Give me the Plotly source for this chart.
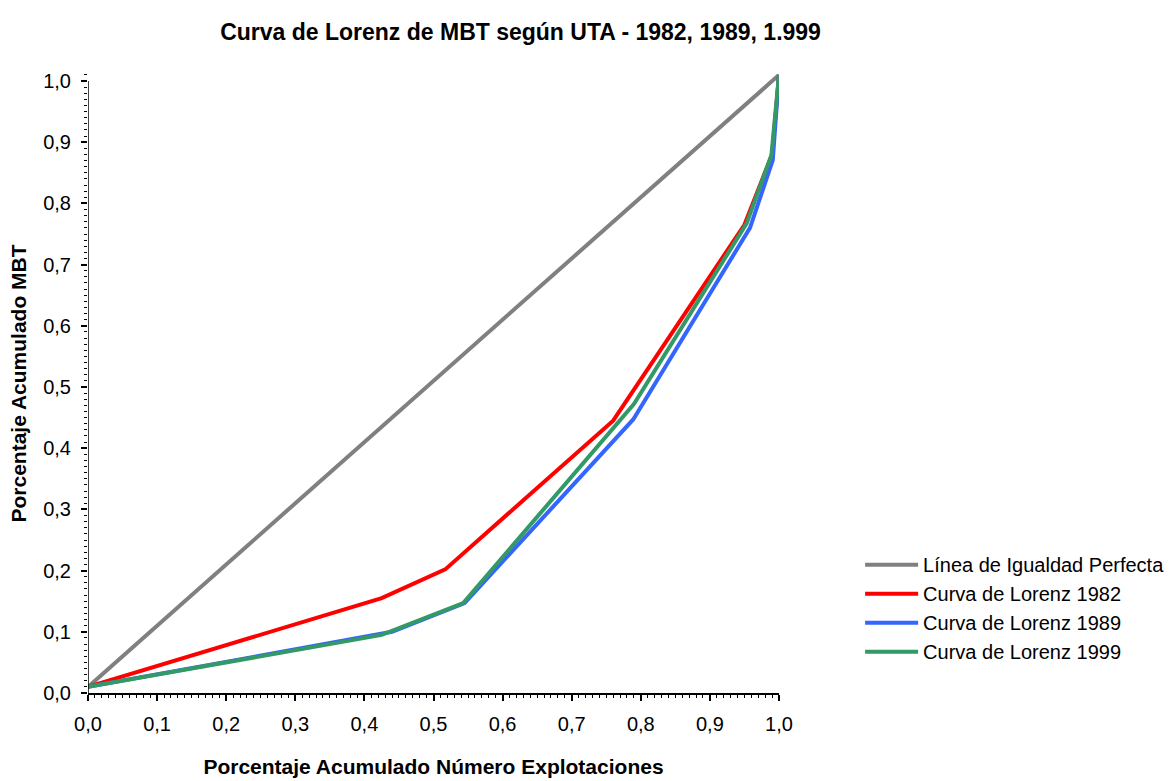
import plotly.graph_objects as go

# Data
series_names = ["Línea de Igualdad Perfecta", "Curva de Lorenz 1982",
                "Curva de Lorenz 1989", "Curva de Lorenz 1999"]

igualdad_x = [0.0, 1.0]
igualdad_y = [0.01, 1.01]

lorenz1982_x = [0.0, 0.425, 0.517, 0.76, 0.95, 0.99, 1.0]
lorenz1982_y = [0.01, 0.155, 0.202, 0.445, 0.765, 0.88, 1.01]

lorenz1989_x = [0.0, 0.44, 0.545, 0.789, 0.958, 0.991, 1.0]
lorenz1989_y = [0.01, 0.10, 0.147, 0.447, 0.76, 0.871, 1.01]

lorenz1999_x = [0.0, 0.425, 0.543, 0.79, 0.953, 0.989, 1.0]
lorenz1999_y = [0.01, 0.095, 0.147, 0.472, 0.767, 0.879, 1.01]

tick_vals = [i / 10 for i in range(11)]
tick_text = ["0,0", "0,1", "0,2", "0,3", "0,4", "0,5", "0,6", "0,7", "0,8", "0,9", "1,0"]

colors = ["#808080", "#FF0000", "#3366FF", "#339966"]
FONT = "Liberation Sans, Arial, sans-serif"

fig = go.Figure()
for i, (name, xs, ys) in enumerate(zip(
        series_names,
        [igualdad_x, lorenz1982_x, lorenz1989_x, lorenz1999_x],
        [igualdad_y, lorenz1982_y, lorenz1989_y, lorenz1999_y])):
    fig.add_trace(go.Scatter(x=xs, y=ys, mode="lines", name=name,
                             legendgroup=f"g{i}",
                             line=dict(color=colors[i], width=4)))

fig.update_layout(
    width=1175, height=781,
    paper_bgcolor="white", plot_bgcolor="white",
    margin=dict(l=88, r=396, t=74, b=88),
    font=dict(family=FONT, size=20, color="black"),
    title=dict(text="<b>Curva de Lorenz de MBT según UTA - 1982, 1989, 1.999</b>",
               x=0.443, xanchor="center", y=0.959, yanchor="middle",
               font=dict(family=FONT, size=23, color="black")),
    showlegend=True,
    legend=dict(xref="container", yref="container",
                x=0.732, xanchor="left", y=0.302, yanchor="top",
                font=dict(family=FONT, size=20, color="black"),
                itemwidth=53, tracegroupgap=0, traceorder="grouped",
                bgcolor="rgba(0,0,0,0)"),
)

fig.update_xaxes(range=[0, 1], tickvals=tick_vals, ticktext=tick_text,
                 automargin=False,
                 showgrid=False, zeroline=False, showline=True,
                 linecolor="black", linewidth=1.5,
                 ticks="outside", ticklen=6, tickcolor="black", tickwidth=1.5,
                 minor=dict(dtick=0.01, ticks="outside", ticklen=3,
                            tickcolor="black", tickwidth=1, showgrid=False),
                 ticklabelstandoff=6,
                 title=dict(text="<b>Porcentaje Acumulado Número Explotaciones</b>",
                            font=dict(family=FONT, size=21), standoff=26))

fig.update_yaxes(range=[0, 1.0115], tickvals=tick_vals, ticktext=tick_text,
                 automargin=False,
                 showgrid=False, zeroline=False, showline=False,
                 ticks="outside", ticklen=6, tickcolor="black", tickwidth=1.5,
                 minor=dict(dtick=0.01, ticks="outside", ticklen=3,
                            tickcolor="black", tickwidth=1, showgrid=False),
                 ticklabelstandoff=6,
                 title=dict(text="<b>Porcentaje Acumulado MBT</b>",
                            font=dict(family=FONT, size=21), standoff=10))

# y axis line from 0 to 1 (axis ends at the 1,0 tick)
fig.add_shape(type="line", xref="x", yref="y", x0=0, x1=0, y0=0, y1=1,
              line=dict(color="black", width=1.5), layer="above")

fig.write_html("out.html",
               config={"displayModeBar": False},
               post_script="document.body.style.margin='0';"
                           "document.body.style.overflow='hidden';")
